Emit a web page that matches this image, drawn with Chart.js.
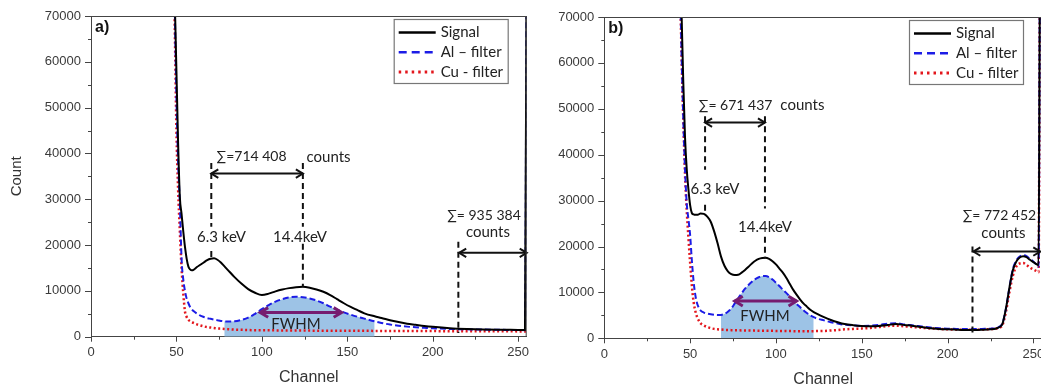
<!DOCTYPE html>
<html><head><meta charset="utf-8">
<script src="https://cdn.jsdelivr.net/npm/chart.js@4/dist/chart.umd.min.js"></script>
<style>
html,body{margin:0;padding:0;background:#fff;width:1041px;height:389px;overflow:hidden;position:relative}
canvas{position:absolute;top:0}
#ca{left:0}
#cb{left:535px}
</style></head><body>
<canvas id="ca" width="535" height="389"></canvas>
<canvas id="cb" width="507" height="389"></canvas>
<script>
// ---------- data ----------
const seriesLabels = ['Signal', 'Al \u2013 filter', 'Cu - filter'];
const xTickValues = [0,25,50,75,100,125,150,175,200,225,250];
const yTickValues = [0,5000,10000,15000,20000,25000,30000,35000,40000,45000,50000,55000,60000,65000,70000];

// panel a
const channelsA = [48,49,50,51,52,53,54,55,56,57,58,59,60,62,64,66,68,70,72,74,76,78,80,84,88,92,96,100,104,108,112,116,120,124,128,132,136,140,144,148,152,156,160,166,170,175,180,185,190,195,200,210,220,230,240,250,254,255];
const signalA = [95000,74000,58000,42000,30500,26800,23000,19600,17000,15300,14700,14500,14600,
  15200,15700,16200,16700,17000,17100,16800,16200,15400,14600,
  13000,11600,10400,9600,9100,9400,9900,10300,10600,10800,10900,10700,10300,9800,9100,8200,7300,6500,5800,5100,
  4450,4100,3600,3200,2850,2600,2350,2150,
  1850,1680,1580,1520,1480,1460,90000];
const alA = [90000,72000,52000,38000,29000,17000,12500,10000,8300,7300,6500,6000,5600,
  5050,4600,4300,4050,3900,3750,3600,3450,3350,3300,
  3350,3650,4150,5000,6000,6900,7650,8200,8600,8700,8600,8350,7900,7300,6550,5900,5300,4800,4350,3950,
  3350,3000,2650,2400,2200,2050,1950,1850,
  1700,1600,1550,1500,1450,1420,90000];
const cuA = [85000,68000,45000,32000,23000,15000,9500,5500,4300,3700,3400,3200,3000,
  2700,2450,2250,2100,2000,1900,1800,1750,1700,1650,
  1550,1500,1450,1420,1400,1390,1380,1370,1360,1350,1340,1330,1320,1310,1300,1300,1290,1290,1280,1280,
  1270,1270,1260,1250,1250,1240,1230,1220,
  1210,1200,1190,1180,1160,1150,1150];
const fwhmFillA = [78, 166];

// panel b
const channelsB = [43,44,45,46,47,48,49,50,51,52,53,54,55,56,
  58,60,62,64,66,68,70,72,74,76,78,80,82,84,86,88,90,92,94,96,98,100,102,104,106,108,110,112,114,116,118,120,122,124,
  128,132,136,140,
  145,150,155,160,165,170,175,180,185,190,195,200,205,210,215,220,225,
  228,230,232,234,236,238,240,242,244,246,248,250,252,253,254,255];
const signalB = [100000,85000,71000,56000,44000,37000,32500,29000,27300,27000,26900,26900,27000,27200,
  27100,26500,25400,23300,20700,17800,15800,14600,14000,13800,13850,14300,14900,15600,16300,16900,17300,17500,17550,17300,
  16800,16100,15200,14300,13200,11900,10600,9500,8500,7600,6900,6200,5700,5300,
  4600,4000,3500,3100,
  2850,2700,2650,2700,2900,3100,2900,2700,2450,2200,2050,1950,1880,1820,1800,1850,1950,
  2100,2400,3200,6500,11000,14800,16700,17600,17900,17700,17100,16600,16100,15900,90000,90000];
const alB = [100000,80000,62000,48000,37000,29500,26000,22500,17000,12500,9500,7700,6700,6100,
  5600,5400,5250,5150,5080,5100,5300,5800,6500,7600,8700,9800,10800,11600,12300,12900,13300,13550,13550,13300,
  12800,12100,11400,10600,9900,9100,8300,7500,6800,6100,5500,5000,4600,4300,
  3900,3500,3200,2950,
  2800,2700,2750,2900,3200,3300,3000,2800,2550,2350,2200,2100,2050,2000,2000,2050,2100,
  2200,2500,3300,6500,11000,15000,16900,17800,18100,17900,17300,16700,16000,15600,90000,90000];
const cuB = [100000,80000,62000,48000,36000,28000,22000,16500,11500,8000,6000,4700,3900,3300,
  2800,2450,2200,2050,1950,1900,1850,1800,1780,1760,1740,1720,1700,1690,1680,1670,1660,1650,1640,1630,
  1620,1610,1600,1590,1580,1570,1560,1550,1550,1550,1550,1550,1560,1570,
  1600,1700,1800,1950,
  2050,2150,2250,2450,2700,2750,2600,2450,2300,2150,2050,1950,1900,1850,1850,1900,2000,
  2100,2300,2900,5800,10000,13600,15600,16300,16400,16000,15400,15000,14600,14400,90000,90000];
const fwhmFillB = [68, 122];

// annotations (in data units: channel, count)
const dashLinesA = [[70.4,37900,24000],[70.4,18700,16900],[124,37900,24000],[124,20300,10900],[215,20700,800]];
const arrowsA = [[70.4,124,35600],[215.5,255,18300]];
const fwhmArrowA = [99,146.7,5300];
const labelsA = [['\u2211=714 408',94,39250],['counts',139,39250],['6.3 keV',76.4,21800],['14.4keV',122.3,21800],
  ['\u2211= 935 384',230,26540],['counts',232.3,22900],['FWHM',120,2770]];

const dashLinesB = [[58.7,48400,36700],[58.7,29100,26900],[93.6,48400,28300],[93.6,22100,17400],[214.5,20000,800]];
const arrowsB = [[58.7,93.6,47000],[215,254,18900]];
const fwhmArrowB = [76,112,8100];
const labelsB = [['\u2211= 671 437',76.5,50830],['counts',115.4,50830],['6.3 keV',64.5,32460],['14.4keV',93.6,24310],
  ['\u2211= 772 452',230.2,26860],['counts',232.5,23010],['FWHM',93.6,4860]];

// ---------- drawing ----------
const pts = (ch, vals) => ch.map((c, i) => ({x: c, y: vals[i]}));
const annFont = '15px Lato, "Open Sans", sans-serif';
const sumFont = '14px Lato, "Open Sans", sans-serif';

function arrowHead(ctx, x, y, dir, s) {
  ctx.beginPath();
  ctx.moveTo(x + dir * s, y - s * 0.6);
  ctx.lineTo(x, y);
  ctx.lineTo(x + dir * s, y + s * 0.6);
  ctx.stroke();
}
function dblArrow(ctx, x1, x2, y, s) {
  ctx.beginPath(); ctx.moveTo(x1, y); ctx.lineTo(x2, y); ctx.stroke();
  arrowHead(ctx, x1, y, 1, s);
  arrowHead(ctx, x2, y, -1, s);
}
function zeroPad(s) { s.paddingLeft = 0; s.paddingRight = 0; s.paddingTop = 0; s.paddingBottom = 0; }

function makeChart(id, p) {
  const fillPts = pts(p.ch, p.al).filter(q => q.x >= p.fill[0] && q.x <= p.fill[1]);
  const common = {pointRadius: 0, cubicInterpolationMode: 'monotone', fill: false};
  const deco = {
    id: 'deco',
    afterDatasetsDraw(chart) {
      const {ctx, scales: {x, y}} = chart;
      ctx.save();
      ctx.strokeStyle = '#111'; ctx.lineWidth = 2; ctx.setLineDash([6, 4]);
      p.dash.forEach(([c, v1, v2]) => {
        const px = x.getPixelForValue(c);
        ctx.beginPath(); ctx.moveTo(px, y.getPixelForValue(v1)); ctx.lineTo(px, y.getPixelForValue(v2)); ctx.stroke();
      });
      ctx.setLineDash([]);
      ctx.lineWidth = 2; ctx.strokeStyle = '#111';
      p.arrows.forEach(([c1, c2, v]) => dblArrow(ctx, x.getPixelForValue(c1), x.getPixelForValue(c2), y.getPixelForValue(v), 7));
      ctx.strokeStyle = 'rgb(118,28,112)'; ctx.lineWidth = 3;
      dblArrow(ctx, x.getPixelForValue(p.fwhm[0]), x.getPixelForValue(p.fwhm[1]), y.getPixelForValue(p.fwhm[2]), 8);
      ctx.fillStyle = '#222'; ctx.textAlign = 'center'; ctx.textBaseline = 'middle';
      p.labels.forEach(([t, c, v]) => {
        ctx.font = t.charAt(0) === '\u2211' ? sumFont : annFont;
        ctx.fillText(t, x.getPixelForValue(c), y.getPixelForValue(v));
      });
      ctx.restore();
    },
    afterDraw(chart) {
      const {ctx, chartArea: a, scales: {x, y}} = chart;
      ctx.save();
      ctx.strokeStyle = '#444'; ctx.lineWidth = 1;
      ctx.beginPath();
      ctx.moveTo(a.left, a.top + 0.5); ctx.lineTo(a.right, a.top + 0.5);
      ctx.moveTo(a.right - 0.5, a.top); ctx.lineTo(a.right - 0.5, a.bottom);
      ctx.stroke();
      ctx.beginPath();
      xTickValues.forEach(v => {
        const px = Math.round(x.getPixelForValue(v)) + 0.5, len = v % 50 === 0 ? 5 : 3;
        ctx.moveTo(px, a.bottom); ctx.lineTo(px, a.bottom + len);
      });
      yTickValues.forEach(v => {
        const py = Math.round(y.getPixelForValue(v)) + 0.5, len = v % 10000 === 0 ? 6 : 3;
        ctx.moveTo(a.left - len, py); ctx.lineTo(a.left, py);
      });
      ctx.stroke();
      const bw = 114, bh = 64, bx = a.right - 19 - bw, by = a.top + 3;
      ctx.fillStyle = '#fff'; ctx.fillRect(bx, by, bw, bh);
      ctx.strokeStyle = '#777'; ctx.lineWidth = 1.2; ctx.strokeRect(bx + 0.5, by + 0.5, bw, bh);
      chart.data.datasets.slice(0, 3).forEach((ds, i) => {
        const ly = by + 13.5 + i * 19.8;
        ctx.strokeStyle = ds.borderColor; ctx.lineWidth = ds.borderWidth + 0.5;
        ctx.setLineDash(i === 0 ? [] : (i === 1 ? [8, 5] : [2.5, 4]));
        ctx.beginPath(); ctx.moveTo(bx + 5, ly); ctx.lineTo(bx + 42, ly); ctx.stroke();
        ctx.setLineDash([]);
        ctx.fillStyle = '#222'; ctx.font = annFont; ctx.textAlign = 'left'; ctx.textBaseline = 'middle';
        ctx.fillText(ds.label, bx + 47, ly);
      });
      ctx.fillStyle = '#111'; ctx.font = 'bold 16px "Liberation Sans", Arial, sans-serif';
      ctx.textAlign = 'left'; ctx.textBaseline = 'middle';
      ctx.fillText(p.letter, a.left + 4, a.top + 12);
      ctx.restore();
    }
  };
  const tickFont = {family: '"Liberation Sans", Arial, sans-serif', size: 13};
  return new Chart(document.getElementById(id), {
    type: 'line',
    data: {datasets: [
      Object.assign({label: seriesLabels[0], data: pts(p.ch, p.sig), borderColor: '#000', borderWidth: 2, order: 1}, common),
      Object.assign({label: seriesLabels[1], data: pts(p.ch, p.al), borderColor: '#1c1ce6', borderWidth: 2, borderDash: [6, 3], order: 2}, common),
      Object.assign({label: seriesLabels[2], data: pts(p.ch, p.cu), borderColor: '#e3161c', borderWidth: 2.5, borderDash: [2, 2.5], order: 3}, common),
      {label: 'fill', data: fillPts, borderWidth: 0, borderColor: 'rgba(0,0,0,0)', backgroundColor: 'rgb(157,195,230)',
       fill: 'origin', pointRadius: 0, cubicInterpolationMode: 'monotone', order: 10}
    ]},
    options: {
      responsive: false, animation: false, devicePixelRatio: 1,
      layout: {padding: p.pad},
      plugins: {legend: {display: false}, tooltip: {enabled: false}},
      scales: {
        x: {
          type: 'linear', position: 'bottom', min: 0, max: 255,
          afterBuildTicks: s => { s.ticks = xTickValues.map(v => ({value: v})); },
          afterFit: s => { s.height = p.xh; zeroPad(s); },
          ticks: {callback: v => (v % 50 === 0 ? String(v) : ''), font: tickFont, color: '#3a3a3a', padding: 8, maxRotation: 0, autoSkip: false},
          grid: {display: true, drawOnChartArea: false, drawTicks: false},
          border: {display: true, color: '#444', width: 1},
          title: {display: true, text: 'Channel', font: {family: '"Liberation Sans", Arial, sans-serif', size: 16}, color: '#333', padding: {top: 0, bottom: p.xtPad}}
        },
        y: {
          type: 'linear', position: 'left', min: 0, max: 70000,
          afterBuildTicks: s => { s.ticks = yTickValues.map(v => ({value: v})); },
          afterFit: s => { s.width = p.yw; zeroPad(s); },
          ticks: {callback: v => (v % 10000 === 0 ? String(v) : ''), font: tickFont, color: '#3a3a3a', padding: 10, autoSkip: false},
          grid: {display: true, drawOnChartArea: false, drawTicks: false},
          border: {display: true, color: '#444', width: 1},
          title: {display: p.showYTitle, text: 'Count', font: {family: '"Liberation Sans", Arial, sans-serif', size: 15}, color: '#333', padding: {top: 7.7, bottom: 0}}
        }
      }
    },
    plugins: [deco]
  });
}

makeChart('ca', {ch: channelsA, sig: signalA, al: alA, cu: cuA, fill: fwhmFillA,
  dash: dashLinesA, arrows: arrowsA, fwhm: fwhmArrowA, labels: labelsA, letter: 'a)',
  pad: {top: 16, right: 8.3, bottom: 0, left: 0}, xh: 52.3, yw: 91, xtPad: 1.4, showYTitle: true});
makeChart('cb', {ch: channelsB, sig: signalB, al: alB, cu: cuB, fill: fwhmFillB,
  dash: dashLinesB, arrows: arrowsB, fwhm: fwhmArrowB, labels: labelsB, letter: 'b)',
  pad: {top: 17, right: 0, bottom: 0, left: 0}, xh: 50.7, yw: 69.3, xtPad: 0, showYTitle: false});
</script>
</body></html>
